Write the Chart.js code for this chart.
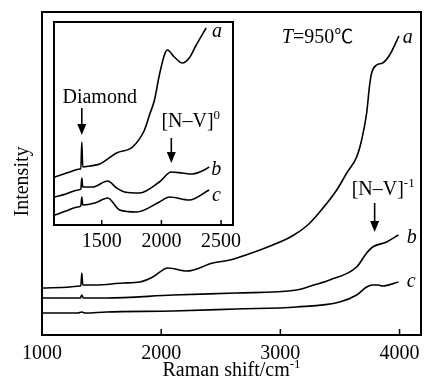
<!DOCTYPE html>
<html>
<head>
<meta charset="utf-8">
<script src="https://cdn.jsdelivr.net/npm/chart.js@4.4.0/dist/chart.umd.min.js"></script>
<style>
  html, body { margin: 0; padding: 0; background: #fff; }
  #wrap { position: relative; width: 427px; height: 387px; }
  #main { position: absolute; left: 0; top: 0; }
  #inset { position: absolute; left: 34px; top: 12px; }
</style>
</head>
<body>
<div id="wrap">
  <canvas id="main" width="427" height="387"></canvas>
  <canvas id="inset" width="224" height="244"></canvas>
</div>
<script>
// main spectra (Raman shift / cm-1, intensity in arbitrary units)
const mainShiftA = [1000, 1235, 1318, 1326, 1334, 1342, 1450, 1679, 1821, 1930, 2056, 2215, 2433, 2576, 2635, 2936, 3100, 3230, 3330, 3473, 3557, 3640, 3682, 3724, 3749, 3766, 3808, 3858, 3917, 3995];
const mainIntA   = [47, 48, 49, 49, 62, 50, 50, 52, 53, 58, 67, 64, 72, 75, 77, 90, 99, 110, 123, 145, 162, 178, 195, 222, 250, 262, 270, 272, 280, 299];
const mainShiftB = [1000, 1300, 1322, 1334, 1346, 1540, 2100, 2630, 3137, 3280, 3414, 3640, 3724, 3774, 3891, 3990];
const mainIntB   = [37, 37, 37, 40, 37, 37, 40, 42, 45, 50, 55, 68, 82, 88, 93, 100];
const mainShiftC = [1000, 1300, 1334, 1360, 1540, 2100, 2630, 3137, 3498, 3640, 3724, 3774, 3820, 3858, 3990];
const mainIntC   = [22, 22, 23, 22, 23, 24, 26, 28, 33, 40, 48, 50, 50, 49, 53];
const mainTicks  = [1000, 2000, 3000, 4000];

// inset spectra
const insetShiftA = [1108, 1233, 1317, 1325, 1333, 1341, 1400, 1483, 1625, 1758, 1858, 1900, 1942, 1983, 2025, 2050, 2108, 2175, 2233, 2292, 2375];
const insetIntA   = [48, 53, 56, 56, 83, 58, 59, 61, 72, 78, 95, 110, 125, 150, 170, 175, 168, 162, 167, 180, 197];
const insetShiftB = [1108, 1200, 1300, 1325, 1333, 1341, 1425, 1550, 1625, 1692, 1817, 1983, 2083, 2175, 2258, 2375, 2400];
const insetIntB   = [28, 31, 35, 36, 47, 38, 38, 44, 37, 33, 32, 43, 53, 52, 51, 56, 58];
const insetShiftC = [1108, 1200, 1300, 1325, 1333, 1341, 1442, 1550, 1650, 1792, 1983, 2067, 2233, 2400];
const insetIntC   = [10, 14, 18, 19, 28, 20, 22, 27, 15, 13, 23, 28, 25, 35];
const insetTicks  = [1500, 2000, 2500];

const serif = '"Liberation Serif", "Times New Roman", serif';
const F  = '20px ' + serif;
const FI = 'italic 20px ' + serif;
const FS = '13px ' + serif;
const FC = '19px "Noto Sans CJK SC", ' + serif;

function pts(xs, ys) { return xs.map((x, i) => ({ x: x, y: ys[i] })); }

function line(xs, ys) {
  return {
    data: pts(xs, ys),
    borderColor: '#000',
    borderWidth: 1.6,
    pointRadius: 0,
    cubicInterpolationMode: 'monotone',
    fill: false
  };
}

// draw text made of pieces [text, font, rise]
function drawParts(ctx, parts, x, y, align) {
  let w = 0;
  parts.forEach(p => { ctx.font = p[1]; w += ctx.measureText(p[0]).width; });
  let cx = align === 'center' ? x - w / 2 : x;
  parts.forEach(p => {
    ctx.font = p[1];
    ctx.fillText(p[0], cx, y - (p[2] || 0));
    cx += ctx.measureText(p[0]).width;
  });
}

function arrow(ctx, x, y0, y1) {
  ctx.beginPath();
  ctx.moveTo(x, y0);
  ctx.lineTo(x, y1 - 8);
  ctx.lineWidth = 1.6;
  ctx.stroke();
  ctx.beginPath();
  ctx.moveTo(x - 4.5, y1 - 11);
  ctx.lineTo(x + 4.5, y1 - 11);
  ctx.lineTo(x, y1);
  ctx.closePath();
  ctx.fill();
}

const framePlugin = {
  id: 'frame',
  beforeDatasetsDraw(chart, args, opts) {
    const { ctx, chartArea: a } = chart;
    if (opts.fill) {
      ctx.save();
      ctx.fillStyle = '#fff';
      ctx.fillRect(a.left, a.top, a.right - a.left, a.bottom - a.top);
      ctx.restore();
    }
  },
  afterDatasetsDraw(chart, args, opts) {
    const { ctx, chartArea: a, scales: { x, y } } = chart;
    ctx.save();
    ctx.strokeStyle = '#000';
    ctx.fillStyle = '#000';
    ctx.lineWidth = 2;
    ctx.strokeRect(a.left, a.top, a.right - a.left, a.bottom - a.top);
    ctx.beginPath();
    x.ticks.forEach(t => {
      const px = x.getPixelForValue(t.value);
      if (px > a.left + 2 && px < a.right - 2) {
        ctx.moveTo(px, a.bottom);
        ctx.lineTo(px, a.bottom - opts.tick);
      }
    });
    ctx.lineWidth = 1.5;
    ctx.stroke();

    ctx.textBaseline = 'alphabetic';
    (opts.notes || []).forEach(n => {
      drawParts(ctx, n.parts, x.getPixelForValue(n.x), y.getPixelForValue(n.y), n.align);
    });
    (opts.arrows || []).forEach(r => {
      arrow(ctx, x.getPixelForValue(r.x), y.getPixelForValue(r.from), y.getPixelForValue(r.to));
    });

    if (opts.titles) {
      // x axis title
      drawParts(ctx, [['Raman shift/cm', F], ['-1', FS, 8]], (a.left + a.right) / 2, a.bottom + 41, 'center');
      // y axis title
      ctx.save();
      ctx.translate(a.left - 14, (a.top + a.bottom) / 2 + 8);
      ctx.rotate(-Math.PI / 2);
      drawParts(ctx, [['Intensity', F]], 0, 0, 'center');
      ctx.restore();
    }
    ctx.restore();
  }
};

function xScale(min, max, ticks, h, pad) {
  return {
    type: 'linear',
    min: min,
    max: max,
    afterBuildTicks: s => { s.ticks = ticks.map(v => ({ value: v })); },
    afterFit: s => { s.height = h; },
    ticks: {
      font: { family: serif, size: 20 },
      color: '#000',
      padding: pad,
      autoSkip: false,
      maxRotation: 0,
      callback: v => String(v)
    },
    grid: { display: false, drawTicks: false },
    border: { display: false }
  };
}

new Chart(document.getElementById('main'), {
  type: 'line',
  data: {
    datasets: [
      line(mainShiftA, mainIntA),
      line(mainShiftB, mainIntB),
      line(mainShiftC, mainIntC)
    ]
  },
  options: {
    responsive: false,
    animation: false,
    devicePixelRatio: 1,
    layout: { padding: { left: 42, top: 12, right: 6, bottom: 0 } },
    scales: {
      x: xScale(1000, 4180, mainTicks, 52, 7),
      y: { display: false, min: 0, max: 323 }
    },
    plugins: {
      legend: { display: false },
      tooltip: { enabled: false },
      frame: {
        tick: 6,
        titles: true,
        notes: [
          { x: 3012, y: 292, parts: [['T', FI], ['=950', F], ['\u2103', FC]] },
          { x: 4026, y: 292, parts: [['a', FI]] },
          { x: 4060, y: 92, parts: [['b', FI]] },
          { x: 4060, y: 48, parts: [['c', FI]] },
          { x: 3598, y: 140, parts: [['[N\u2013V]', F], ['-1', FS, 8]] }
        ],
        arrows: [{ x: 3791, from: 132, to: 103 }]
      }
    }
  },
  plugins: [framePlugin]
});

new Chart(document.getElementById('inset'), {
  type: 'line',
  data: {
    datasets: [
      line(insetShiftA, insetIntA),
      line(insetShiftB, insetIntB),
      line(insetShiftC, insetIntC)
    ]
  },
  options: {
    responsive: false,
    animation: false,
    devicePixelRatio: 1,
    layout: { padding: { left: 20, top: 10, right: 25, bottom: 0 } },
    scales: {
      x: xScale(1100, 2600, insetTicks, 31, 5),
      y: { display: false, min: 0, max: 203 }
    },
    plugins: {
      legend: { display: false },
      tooltip: { enabled: false },
      frame: {
        tick: 5,
        fill: true,
        notes: [
          { x: 2425, y: 188, parts: [['a', FI]] },
          { x: 2417, y: 50, parts: [['b', FI]] },
          { x: 2425, y: 24, parts: [['c', FI]] },
          { x: 1483, y: 122, parts: [['Diamond', F]], align: 'center' },
          { x: 2000, y: 98, parts: [['[N\u2013V]', F], ['0', FS, 8]] }
        ],
        arrows: [
          { x: 1333, from: 117, to: 90 },
          { x: 2083, from: 87, to: 62 }
        ]
      }
    }
  },
  plugins: [framePlugin]
});
</script>
</body>
</html>
